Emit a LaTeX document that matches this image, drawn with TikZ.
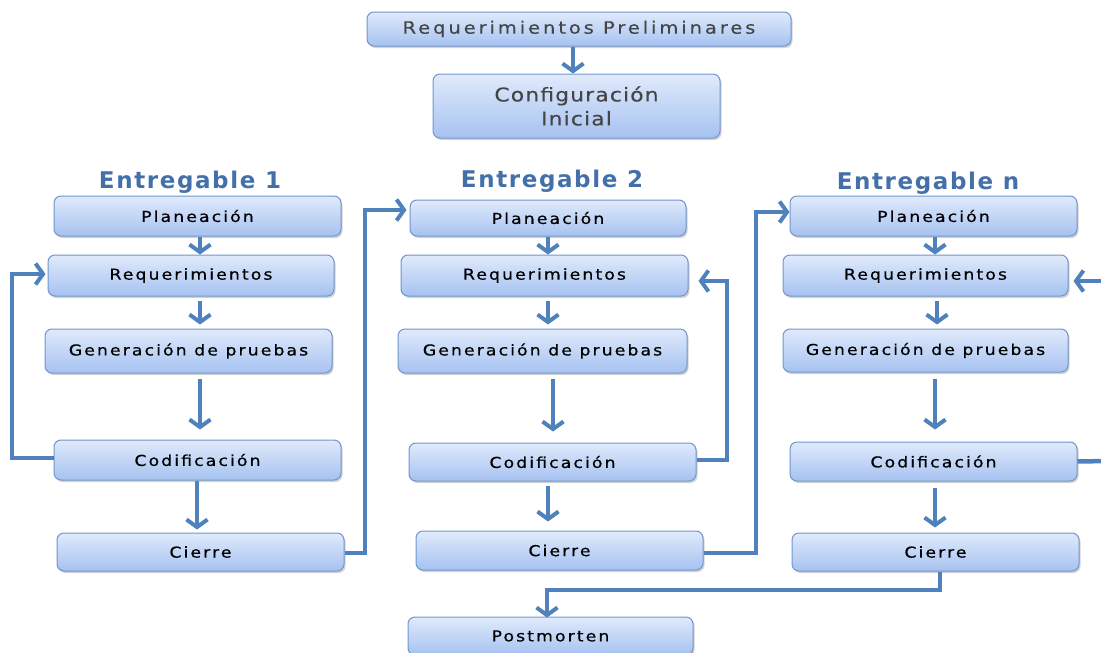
\documentclass[tikz,border=0pt]{standalone}
\usepackage{fontspec}
\setmainfont{DejaVu Sans}
\newfontfamily\boxfont[FakeStretch=1.15, LetterSpace=14, FakeBold=0.5]{DejaVu Sans}
\newfontfamily\prelimfont[FakeStretch=1.15, LetterSpace=17, FakeBold=0.3]{DejaVu Sans}
\newfontfamily\configfont[FakeStretch=1.15, LetterSpace=6, FakeBold=0.3]{DejaVu Sans}
\newfontfamily\headfont[LetterSpace=7]{DejaVu Sans}
\usepackage{xcolor}
\usepackage{tikz}
\usetikzlibrary{shapes.geometric, arrows.meta, positioning, calc, shadows}

\definecolor{boxtop}{HTML}{E0EAFB}
\definecolor{boxbot}{HTML}{A6C2F1}
\definecolor{boxedge}{HTML}{7096CC}
\definecolor{flow}{HTML}{4F81BD}
\definecolor{headblue}{HTML}{4470AA}
\definecolor{greytext}{HTML}{454545}

\begin{document}
\begin{tikzpicture}[x=1pt, y=-1pt, font={\boxfont\fontsize{15pt}{17pt}\selectfont}]
    \tikzstyle{box} = [rectangle, rounded corners=7pt, draw=boxedge, line width=1pt, top color=boxtop, bottom color=boxbot, minimum width=287pt, minimum height=40pt, inner sep=0pt, drop shadow={opacity=0.35, shadow xshift=1.5pt, shadow yshift=-2pt}]
    \tikzstyle{head} = [font={\headfont\bfseries\fontsize{23pt}{25pt}\selectfont}, text=headblue]
    \tikzstyle{arrow} = [line width=4.5pt, draw=flow, -{Straight Barb[length=7.5pt, width=21pt, line width=4pt]}]
    \tikzstyle{link} = [line width=4.5pt, draw=flow]

    \useasboundingbox (0,0) rectangle (1101,653);

    \node (prelim) [box, minimum width=424pt, minimum height=34pt, text=greytext, font={\prelimfont\fontsize{17pt}{19pt}\selectfont}] at (579,29) {\raisebox{-4pt}{Requerimientos Preliminares}};
    \node (config) [box, minimum height=64pt, text=greytext, align=center, font={\configfont\fontsize{19pt}{24pt}\selectfont}] at (576.5,106) {Configuración\\Inicial};

    % entregable 1
    \node (t1) [head] at (190,182) {Entregable 1};
    \node (p1) [box] at (197.5,216) {Planeación};
    \node (r1) [box, minimum width=286pt, minimum height=41pt] at (191,275.5) {Requerimientos};
    \node (g1) [box, minimum height=44pt] at (188.5,351) {Generación de pruebas};
    \node (c1) [box] at (197.5,460) {Codificación};
    \node (z1) [box, minimum height=38pt] at (200.5,552) {Cierre};

    % entregable 2
    \node (t2) [head] at (552,181) {Entregable 2};
    \node (p2) [box, minimum width=276pt, minimum height=36pt] at (548,218) {Planeación};
    \node (r2) [box, minimum height=41pt] at (544.5,275.5) {Requerimientos};
    \node (g2) [box, minimum width=289pt, minimum height=44pt] at (542.5,351) {Generación de pruebas};
    \node (c2) [box, minimum height=38pt] at (552.5,462) {Codificación};
    \node (z2) [box, minimum height=39pt] at (559.5,550.5) {Cierre};

    % entregable n
    \node (tn) [head] at (928,183) {Entregable n};
    \node (p3) [box] at (933.5,216) {Planeación};
    \node (r3) [box, minimum width=285pt, minimum height=41pt] at (925.5,275.5) {Requerimientos};
    \node (g3) [box, minimum width=285pt, minimum height=43pt] at (925.5,350.5) {Generación de pruebas};
    \node (c3) [box, minimum height=39pt] at (933.5,461.5) {Codificación};
    \node (z3) [box, minimum height=38pt] at (935.5,552) {Cierre};

    \node (post) [box, minimum width=285pt, minimum height=38pt] at (550.5,636) {Postmorten};

    \coordinate (edgeA) at (1108,461);
    \coordinate (edgeB) at (1108,281);

    \draw [arrow] (prelim.south -| 573,0) -- (config.north -| 573,0);

    \draw [arrow] (p1.south -| 200,0) -- (r1.north -| 200,0);
    \draw [arrow] ([yshift=-4pt]r1.south -| 200,0) -- ([yshift=4pt]g1.north -| 200,0);
    \draw [arrow] ([yshift=-5pt]g1.south -| 200,0) -- ([yshift=10pt]c1.north -| 200,0);
    \draw [arrow] (c1.south -| 197,0) -- ([yshift=3pt]z1.north -| 197,0);

    \draw [arrow] (p2.south) -- (p2.south |- r2.north);
    \draw [arrow] ([yshift=-4pt]r2.south -| 548,0) -- ([yshift=4pt]g2.north -| 548,0);
    \draw [arrow] ([yshift=-5pt]g2.south -| 553,0) -- ([yshift=11pt]c2.north -| 553,0);
    \draw [arrow] ([yshift=-4pt]c2.south -| 548,0) -- ([yshift=9pt]z2.north -| 548,0);

    \draw [arrow] (p3.south -| 935,0) -- (r3.north -| 935,0);
    \draw [arrow] ([yshift=-4pt]r3.south -| 937,0) -- ([yshift=4pt]g3.north -| 937,0);
    \draw [arrow] ([yshift=-6pt]g3.south -| 935,0) -- ([yshift=12pt]c3.north -| 935,0);
    \draw [arrow] ([yshift=-6pt]c3.south -| 935,0) -- ([yshift=5pt]z3.north -| 935,0);

    % vueltas
    \draw [arrow] ([yshift=2pt]c1.west) -| (12,274) -- ([xshift=-2pt,yshift=1.5pt]r1.west);
    \draw [arrow] ([yshift=-1pt]z1.east) -| (365,210) -- ([xshift=-3pt,yshift=8pt]p2.west);
    \draw [arrow] ([yshift=2pt]c2.east) -| (727,281) -- ([xshift=10pt,yshift=-5.5pt]r2.east);
    \draw [arrow] ([yshift=-2.5pt]z2.east) -| (756,212) -- ([yshift=4pt]p3.west);
    \draw [link] (c3.east) -- (edgeA) -- (edgeB);
    \draw [arrow] (edgeB) -- ([xshift=5pt,yshift=-5.5pt]r3.east);
    \draw [arrow] (z3.south -| 940,0) -- (940,590) -| ([yshift=-1pt]post.north -| 547,0);
\end{tikzpicture}
\end{document}
